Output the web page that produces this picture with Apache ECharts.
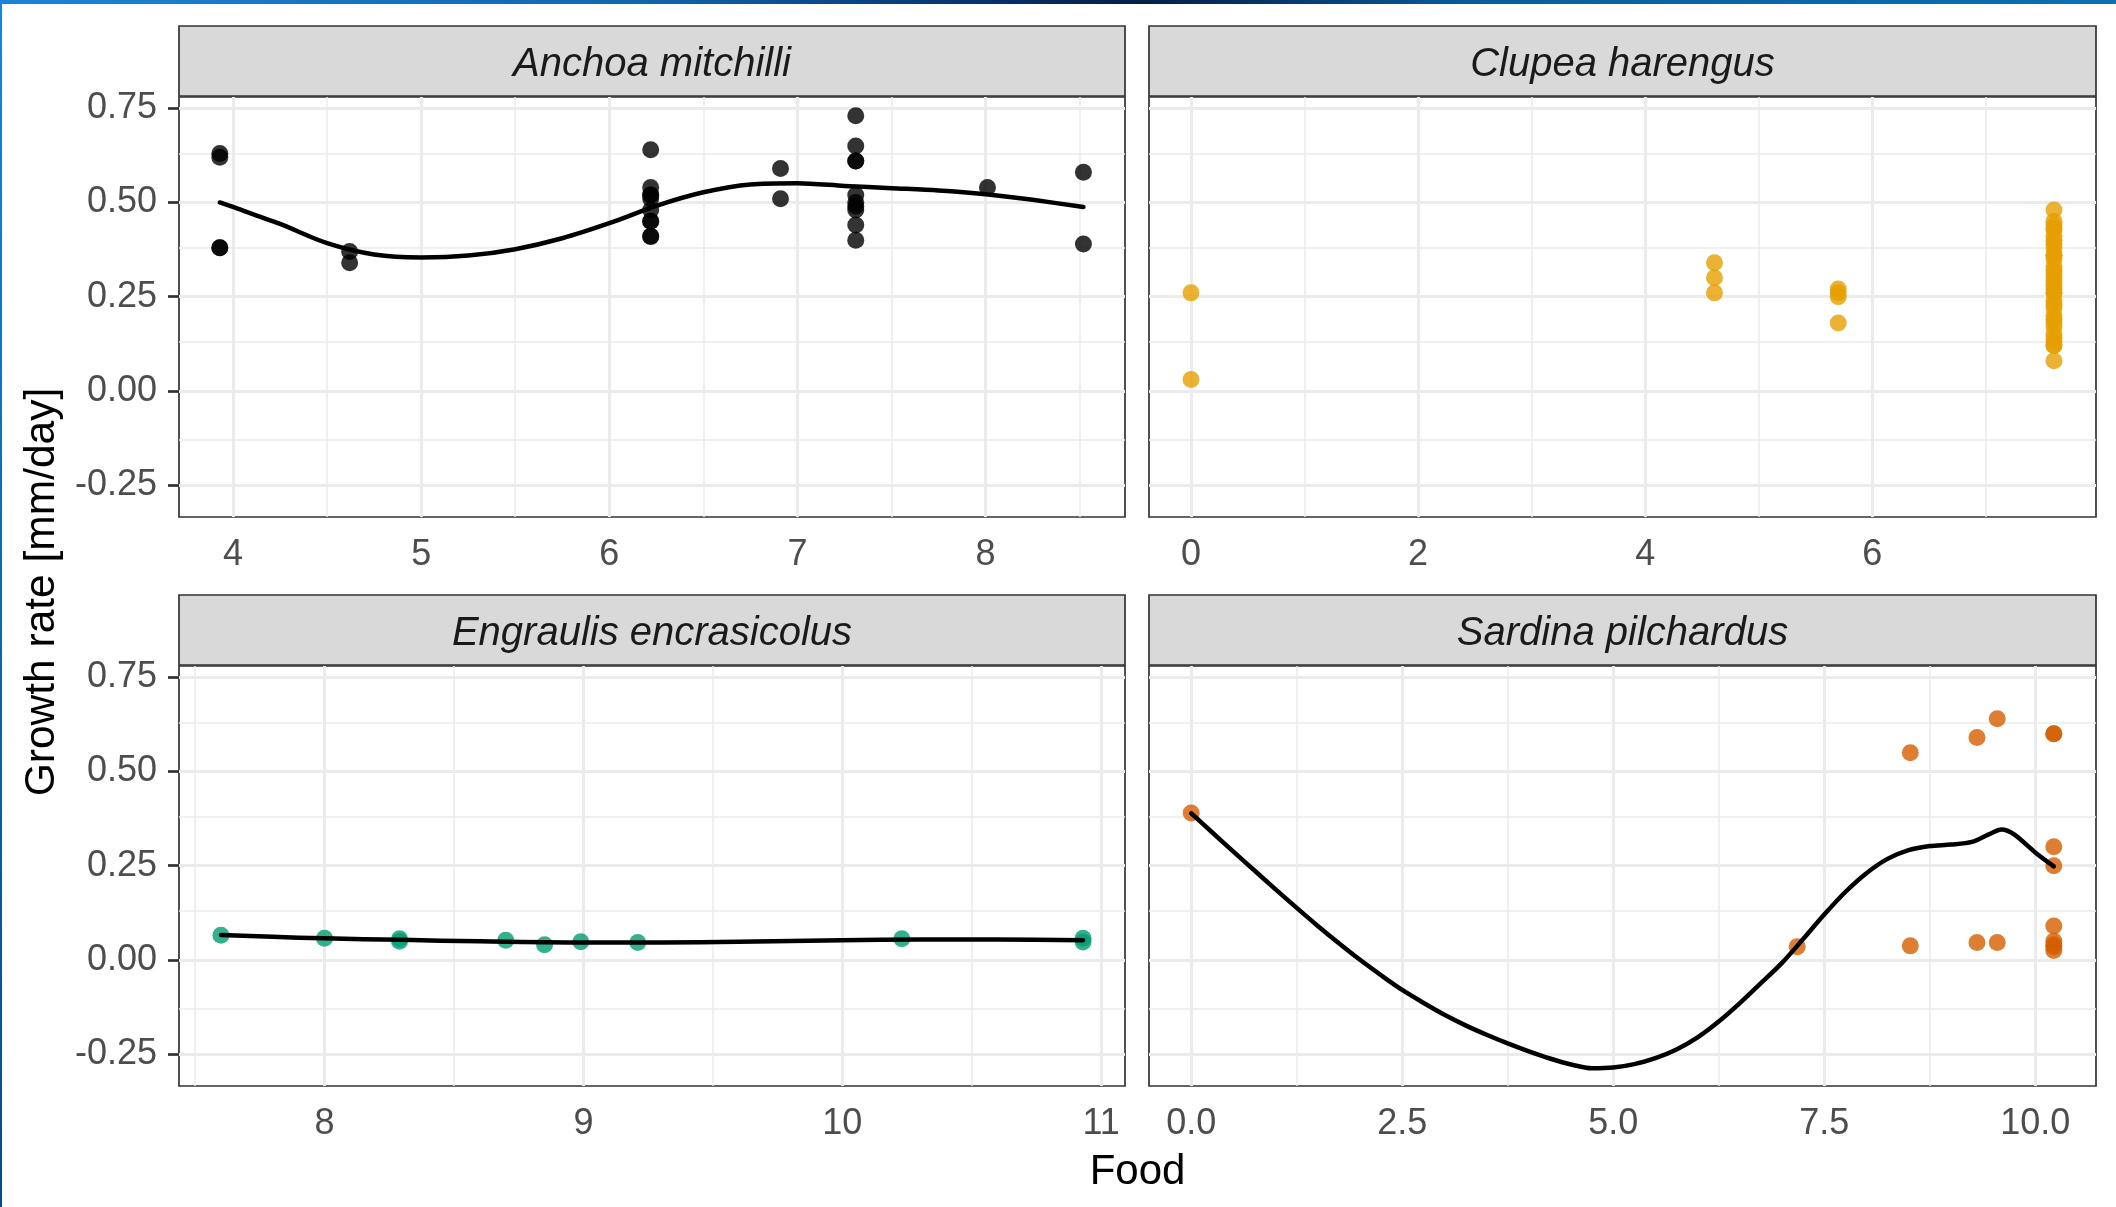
<!DOCTYPE html>
<html>
<head>
<meta charset="utf-8">
<title>Growth rate vs Food</title>
<script src="https://cdn.jsdelivr.net/npm/echarts@6/dist/echarts.min.js"></script>
<style>
  html, body { margin: 0; padding: 0; background: #ffffff; }
  #chart { width: 2116px; height: 1207px; }
</style>
</head>
<body>
<div id="chart"></div>
<script>
// ---- observations: food level vs growth rate, per species ----
const anchoaFood   = [3.93, 3.93, 3.93, 3.93, 4.62, 4.62,
                      6.22, 6.22, 6.22, 6.22, 6.22, 6.22, 6.22, 6.22, 6.22, 6.22,
                      6.91, 6.91,
                      7.31, 7.31, 7.31, 7.31, 7.31, 7.31, 7.31, 7.31, 7.31, 7.31,
                      8.01, 8.52, 8.52];
const anchoaGrowth = [0.63, 0.62, 0.38, 0.38, 0.37, 0.34,
                      0.64, 0.54, 0.52, 0.52, 0.51, 0.48, 0.45, 0.45, 0.41, 0.41,
                      0.59, 0.51,
                      0.73, 0.65, 0.61, 0.61, 0.52, 0.50, 0.49, 0.48, 0.44, 0.40,
                      0.54, 0.58, 0.39];

const clupeaFood   = [0, 0, 4.61, 4.61, 4.61, 5.70, 5.70, 5.70, 5.70,
                      7.6, 7.6, 7.6, 7.6, 7.6, 7.6, 7.6, 7.6, 7.6, 7.6, 7.6, 7.6,
                      7.6, 7.6, 7.6, 7.6, 7.6, 7.6, 7.6, 7.6, 7.6, 7.6, 7.6, 7.6,
                      7.6, 7.6, 7.6, 7.6, 7.6, 7.6, 7.6, 7.6, 7.6, 7.6];
const clupeaGrowth = [0.26, 0.03, 0.34, 0.30, 0.26, 0.27, 0.26, 0.25, 0.18,
                      0.48, 0.45, 0.44, 0.43, 0.43, 0.41, 0.40, 0.39, 0.38, 0.36, 0.36, 0.35,
                      0.33, 0.32, 0.31, 0.30, 0.29, 0.28, 0.27, 0.26, 0.26, 0.24, 0.23, 0.22,
                      0.20, 0.19, 0.18, 0.17, 0.15, 0.14, 0.13, 0.12, 0.12, 0.08];

const engraulisFood   = [7.60, 8.00, 8.29, 8.29, 8.70, 8.85, 8.99, 9.21, 10.23, 10.93, 10.93];
const engraulisGrowth = [0.065, 0.057, 0.056, 0.049, 0.052, 0.040, 0.048, 0.046, 0.056, 0.057, 0.047];

const sardinaFood   = [0, 7.18, 8.52, 8.52, 9.31, 9.31, 9.55, 9.55,
                       10.22, 10.22, 10.22, 10.22, 10.22, 10.22, 10.22, 10.22, 10.22];
const sardinaGrowth = [0.39, 0.035, 0.55, 0.037, 0.59, 0.046, 0.64, 0.046,
                       0.60, 0.60, 0.30, 0.25, 0.09, 0.05, 0.04, 0.035, 0.025];

// ---- smoothed trend lines ----
const anchoaTrendX = [3.93, 4.0, 4.25, 4.5, 4.75, 5.0, 5.25, 5.5, 5.75, 6.0, 6.25, 6.5, 6.75, 7.0, 7.25, 7.5, 7.75, 8.0, 8.25, 8.52];
const anchoaTrendY = [0.500, 0.488, 0.443, 0.392, 0.362, 0.354, 0.359, 0.376, 0.405, 0.445, 0.491, 0.527, 0.548, 0.551, 0.544, 0.538, 0.532, 0.522, 0.507, 0.488];

const engraulisTrendX = [7.6, 7.8, 8.0, 8.3, 8.6, 9.0, 9.3, 9.6, 10.0, 10.3, 10.6, 10.93];
const engraulisTrendY = [0.066, 0.061, 0.057, 0.053, 0.049, 0.046, 0.046, 0.048, 0.052, 0.054, 0.054, 0.052];

const sardinaTrendX = [0, 0.25, 0.5, 0.75, 1.0, 1.25, 1.5, 1.75, 2.0, 2.25, 2.5, 2.75, 3.0, 3.25, 3.5, 3.75,
                       4.0, 4.25, 4.5, 4.75, 5.0, 5.25, 5.5, 5.75, 6.0, 6.25, 6.5, 6.75, 7.0, 7.25, 7.5, 7.75,
                       8.0, 8.25, 8.5, 8.75, 9.0, 9.25, 9.45, 9.6, 9.75, 10.0, 10.22];
const sardinaTrendY = [0.389, 0.338, 0.287, 0.237, 0.187, 0.138, 0.090, 0.044, 0.000, -0.041, -0.080, -0.114, -0.146, -0.174, -0.199, -0.222,
                       -0.243, -0.262, -0.278, -0.288, -0.286, -0.277, -0.261, -0.238, -0.206, -0.164, -0.115, -0.062, -0.008, 0.055, 0.120, 0.180,
                       0.230, 0.268, 0.291, 0.302, 0.306, 0.313, 0.333, 0.346, 0.333, 0.285, 0.248];

// ---- axis ticks ----
const yTicks = [-0.25, 0, 0.25, 0.5, 0.75];
const yMinor = [-0.125, 0.125, 0.375, 0.625];
const anchoaTicks = [4, 5, 6, 7, 8];
const anchoaMinor = [4.5, 5.5, 6.5, 7.5, 8.5];
const clupeaTicks = [0, 2, 4, 6];
const clupeaMinor = [1, 3, 5, 7];
const engraulisTicks = [8, 9, 10, 11];
const engraulisMinor = [7.5, 8.5, 9.5, 10.5];
const sardinaTicks = [0, 2.5, 5, 7.5, 10];
const sardinaMinor = [1.25, 3.75, 6.25, 8.75];

const speciesNames = ['Anchoa mitchilli', 'Clupea harengus', 'Engraulis encrasicolus', 'Sardina pilchardus'];

const FONT = "'Liberation Sans', Arial, Helvetica, sans-serif";
const TICK_COLOR = '#4D4D4D';
const GRID_COLOR = '#EBEBEB';

const zip = (xs, ys) => xs.map((x, i) => [x, ys[i]]);

// panel geometry
const panels = [
  { left: 179,  top: 97,  width: 946, height: 420, xMin: 3.713, xMax: 8.741, ticks: anchoaTicks,    minor: anchoaMinor,    dec: 0, yLabels: true },
  { left: 1149, top: 97,  width: 947, height: 420, xMin: -0.37, xMax: 7.97,  ticks: clupeaTicks,    minor: clupeaMinor,    dec: 0, yLabels: false },
  { left: 179,  top: 666, width: 946, height: 420, xMin: 7.438, xMax: 11.092, ticks: engraulisTicks, minor: engraulisMinor, dec: 0, yLabels: true },
  { left: 1149, top: 666, width: 947, height: 420, xMin: -0.5,  xMax: 10.72, ticks: sardinaTicks,   minor: sardinaMinor,   dec: 1, yLabels: false }
];
const Y_MIN = -0.335, Y_MAX = 0.78;
const STRIP_H = 70;

const grids = panels.map(p => ({
  left: p.left, top: p.top, width: p.width, height: p.height,
  show: true, backgroundColor: '#ffffff', borderColor: '#333333', borderWidth: 1.7,
  containLabel: false
}));

const xAxes = panels.map((p, i) => ({
  type: 'value', gridIndex: i, min: p.xMin, max: p.xMax,
  axisLine: { show: false },
  splitLine: { show: false },
  axisTick: { show: true, customValues: p.ticks, length: 11, lineStyle: { color: '#333333', width: 2.7 } },
  axisLabel: {
    show: true, customValues: p.ticks, margin: 20,
    color: TICK_COLOR, fontSize: 36, fontFamily: FONT,
    formatter: v => Number(v).toFixed(p.dec)
  }
}));

const yAxes = panels.map((p, i) => ({
  type: 'value', gridIndex: i, min: Y_MIN, max: Y_MAX,
  axisLine: { show: false },
  splitLine: { show: false },
  axisTick: { show: p.yLabels, customValues: yTicks, length: 11, lineStyle: { color: '#333333', width: 2.7 } },
  axisLabel: {
    show: p.yLabels, customValues: yTicks, margin: 22,
    color: TICK_COLOR, fontSize: 36, fontFamily: FONT,
    formatter: v => Number(v).toFixed(2)
  }
}));

// background grid lines for each panel, kept beneath the marks
const gridSeries = panels.map((p, i) => {
  const lines = [];
  yMinor.forEach(v => lines.push({ yAxis: v, lineStyle: { width: 1.5 } }));
  p.minor.forEach(v => lines.push({ xAxis: v, lineStyle: { width: 1.5 } }));
  yTicks.forEach(v => lines.push({ yAxis: v, lineStyle: { width: 3 } }));
  p.ticks.forEach(v => lines.push({ xAxis: v, lineStyle: { width: 3 } }));
  return {
    type: 'scatter', xAxisIndex: i, yAxisIndex: i, data: [], z: 1, silent: true,
    markLine: {
      z: 1, zlevel: 0,
      silent: true, symbol: ['none', 'none'], label: { show: false },
      lineStyle: { color: GRID_COLOR, type: 'solid' },
      emphasis: { disabled: true },
      animation: false,
      data: lines
    }
  };
});

const pointSeries = [
  { data: zip(anchoaFood, anchoaGrowth), color: '#000000' },
  { data: zip(clupeaFood, clupeaGrowth), color: '#E69F00' },
  { data: zip(engraulisFood, engraulisGrowth), color: '#009E73' },
  { data: zip(sardinaFood, sardinaGrowth), color: '#D55E00' }
].map((s, i) => ({
  type: 'scatter', xAxisIndex: i, yAxisIndex: i, data: s.data,
  symbol: 'circle', symbolSize: 17, z: 3, silent: true,
  itemStyle: { color: s.color, opacity: 0.8 }
}));

const trend = (i, xs, ys) => ({
  type: 'line', xAxisIndex: i, yAxisIndex: i, data: zip(xs, ys),
  smooth: 0.3, showSymbol: false, symbol: 'none', z: 4, silent: true,
  lineStyle: { color: '#000000', width: 4.5, cap: 'round', join: 'round' }
});
const trendSeries = [
  trend(0, anchoaTrendX, anchoaTrendY),
  trend(2, engraulisTrendX, engraulisTrendY),
  trend(3, sardinaTrendX, sardinaTrendY)
];

// facet strips
const stripGraphics = [];
panels.forEach((p, i) => {
  const top = p.top - STRIP_H - 1;
  stripGraphics.push({
    type: 'rect', silent: true, z: 10,
    shape: { x: p.left, y: top, width: p.width, height: STRIP_H },
    style: { fill: '#D9D9D9', stroke: '#333333', lineWidth: 1.7 }
  });
  stripGraphics.push({
    type: 'text', silent: true, z: 11,
    x: p.left + p.width / 2, y: top + STRIP_H / 2 + 4,
    style: {
      text: speciesNames[i], fill: '#1A1A1A', fontSize: 40, fontStyle: 'italic',
      fontFamily: FONT, align: 'center', verticalAlign: 'middle'
    }
  });
});

// frame accents along the top and left edges
const frameGraphics = [
  {
    type: 'rect', silent: true, z: 20,
    shape: { x: 0, y: 0, width: 2116, height: 4 },
    style: {
      fill: new echarts.graphic.LinearGradient(0, 0, 1, 0, [
        { offset: 0, color: '#1C84D6' },
        { offset: 0.3, color: '#1266B0' },
        { offset: 0.47, color: '#06306A' },
        { offset: 0.54, color: '#041E48' },
        { offset: 0.7, color: '#0A5E9E' },
        { offset: 1, color: '#0B70B4' }
      ])
    }
  },
  {
    type: 'rect', silent: true, z: 20,
    shape: { x: 0, y: 0, width: 2, height: 1207 },
    style: {
      fill: new echarts.graphic.LinearGradient(0, 0, 0, 1, [
        { offset: 0, color: '#1C84D6' },
        { offset: 1, color: '#0A4A80' }
      ])
    }
  }
];

// axis titles
const titleGraphics = [
  {
    type: 'text', silent: true, z: 11, x: 1137.5, y: 1172,
    style: { text: 'Food', fill: '#000000', fontSize: 42, fontFamily: FONT, align: 'center', verticalAlign: 'middle' }
  },
  {
    type: 'text', silent: true, z: 11, x: 42, y: 592, rotation: Math.PI / 2,
    style: { text: 'Growth rate [mm/day]', fill: '#000000', fontSize: 42.5, fontFamily: FONT, align: 'center', verticalAlign: 'middle' }
  }
];

const chart = echarts.init(document.getElementById('chart'), null, { renderer: 'canvas' });
chart.setOption({
  animation: false,
  backgroundColor: '#ffffff',
  grid: grids,
  xAxis: xAxes,
  yAxis: yAxes,
  series: [...gridSeries, ...pointSeries, ...trendSeries],
  graphic: [...stripGraphics, ...titleGraphics, ...frameGraphics]
});
</script>
</body>
</html>
